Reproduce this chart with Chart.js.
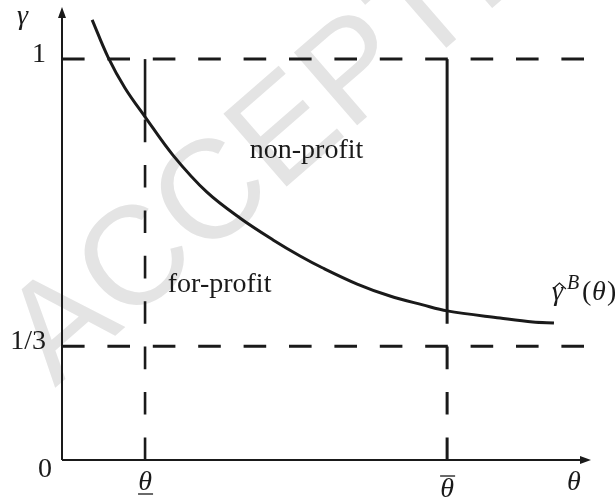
<!DOCTYPE html>
<html>
<head>
<meta charset="utf-8">
<script src="https://cdn.jsdelivr.net/npm/chart.js@4.4.1/dist/chart.umd.min.js"></script>
<style>
  html, body { margin: 0; padding: 0; background: #fff; }
  canvas { display: block; }
</style>
</head>
<body>
<canvas id="chart_regimes" width="615" height="499"></canvas>
<script>
// curve gamma-hat^B(theta)
const curve_x = [5.7, 8.7, 11.9, 15.7, 21.0, 27.4, 33.7, 39.9, 45.0, 49.3, 55.8, 62.0, 68.2, 72.8, 82.8, 89.0, 93.0];
const curve_y = [1.098, 1.005, 0.928, 0.856, 0.760, 0.668, 0.603, 0.549, 0.509, 0.479, 0.439, 0.409, 0.387, 0.372, 0.354, 0.344, 0.342];

// y ticks: 1/3 sits lower than its true value in the sketch
const y_ticks = [0, 0.284, 1];
const y_labels = ["0", "1/3", "1"];

// theta ticks (lower and upper threshold)
const theta_low = 15.7;
const theta_high = 72.8;
const x_ticks = [theta_low, theta_high];
const x_marks = ["under", "over"];

const dash_end = 98.7;

function curveAt(xv) {
	let i = curve_x.indexOf(xv);
	return curve_y[i];
}

const black = "#1a1a1a";
const dash = [22.6, 22.8];

function line(data, dashed, width) {
	return {
		data: data,
		borderColor: black,
		borderWidth: width || 3,
		borderDash: dashed ? dash : [],
		pointRadius: 0,
		tension: 0,
		fill: false,
	};
}

const sketch = {
	id: "sketch",
	beforeDatasetsDraw(chart) {
		// light watermark
		const ctx = chart.ctx;
		ctx.save();
		ctx.translate(55, 388);
		ctx.rotate(-41 * Math.PI / 180);
		ctx.fillStyle = "#e4e4e4";
		ctx.font = '140px "Liberation Sans"';
		ctx.textBaseline = "alphabetic";
		ctx.fillText("ACCEPTED MANUSCRIPT", 0, 0);
		ctx.restore();
	},
	afterDatasetsDraw(chart) {
		const ctx = chart.ctx;
		const sx = chart.scales.x, sy = chart.scales.y;
		const px = v => sx.getPixelForValue(v);
		const py = v => sy.getPixelForValue(v);
		const area = chart.chartArea;
		const ox = px(0), oy = py(0);

		ctx.save();
		ctx.strokeStyle = black;
		ctx.fillStyle = black;
		ctx.lineWidth = 2;

		// axes
		ctx.beginPath();
		ctx.moveTo(ox, oy);
		ctx.lineTo(ox, area.top + 10);
		ctx.moveTo(ox, oy);
		ctx.lineTo(area.right - 10, oy);
		ctx.stroke();

		// arrow heads
		ctx.beginPath();
		ctx.moveTo(ox, area.top);
		ctx.lineTo(ox - 4, area.top + 11);
		ctx.lineTo(ox + 4, area.top + 11);
		ctx.closePath();
		ctx.fill();
		ctx.beginPath();
		ctx.moveTo(area.right, oy);
		ctx.lineTo(area.right - 11, oy - 4);
		ctx.lineTo(area.right - 11, oy + 4);
		ctx.closePath();
		ctx.fill();

		// y tick labels
		ctx.font = '28px "Liberation Serif"';
		ctx.textAlign = "right";
		ctx.textBaseline = "alphabetic";
		y_ticks.forEach((v, i) => {
			if (v === 0) ctx.fillText(y_labels[i], ox - 10, oy + 17);
			else ctx.fillText(y_labels[i], ox - 16, py(v) + 3);
		});

		// x tick labels (theta with under / over bar)
		ctx.font = 'italic 28px "Liberation Serif"';
		ctx.textAlign = "center";
		ctx.lineWidth = 1.3;
		x_ticks.forEach((v, i) => {
			let cx = px(v);
			if (x_marks[i] == "under") {
				ctx.fillText("\u03B8", cx, oy + 30);
				ctx.beginPath();
				ctx.moveTo(cx - 7, oy + 34);
				ctx.lineTo(cx + 8, oy + 34);
				ctx.stroke();
			} else {
				ctx.fillText("\u03B8", cx, oy + 37);
				ctx.beginPath();
				ctx.moveTo(cx - 7, oy + 16);
				ctx.lineTo(cx + 8, oy + 16);
				ctx.stroke();
			}
		});

		// axis names
		ctx.textAlign = "left";
		ctx.fillText("\u03B3", 17, 24);
		ctx.fillText("\u03B8", 567, oy + 30);

		// region names
		ctx.font = '28px "Liberation Serif"';
		ctx.fillText("non-profit", px(35.5), py(0.753));
		ctx.fillText("for-profit", px(20.0), py(0.419));

		// curve name: gamma-hat^B(theta)
		let lx = px(curve_x[curve_x.length - 1]) - 2;
		let ly = py(0.399);
		ctx.font = 'italic 28px "Liberation Serif"';
		ctx.fillText("\u03B3", lx, ly);
		ctx.beginPath();
		ctx.moveTo(lx + 1, ly - 11);
		ctx.lineTo(lx + 7.5, ly - 17);
		ctx.lineTo(lx + 14, ly - 11);
		ctx.lineWidth = 1.2;
		ctx.stroke();
		ctx.font = 'italic 20px "Liberation Serif"';
		ctx.fillText("B", lx + 15, ly - 11);
		ctx.font = '28px "Liberation Serif"';
		ctx.fillText("(", lx + 30, ly);
		ctx.font = 'italic 28px "Liberation Serif"';
		ctx.fillText("\u03B8", lx + 40, ly);
		ctx.font = '28px "Liberation Serif"';
		ctx.fillText(")", lx + 55, ly);
		ctx.restore();
	},
};

const ctx = document.getElementById("chart_regimes").getContext("2d");

let chart_regimes = new Chart(ctx, {
	type: "line",
	data: {
		datasets: [
			// horizontal guides at gamma = 1 and gamma = 1/3
			line([{ x: 0, y: y_ticks[2] }, { x: dash_end, y: y_ticks[2] }], true),
			line([{ x: 0, y: y_ticks[1] }, { x: dash_end, y: y_ticks[1] }], true),
			// theta low: dashed up to the curve, solid above it
			line([{ x: theta_low, y: 0 }, { x: theta_low, y: curveAt(theta_low) }], true, 2.6),
			line([{ x: theta_low, y: curveAt(theta_low) }, { x: theta_low, y: 1 }], false, 2.6),
			// theta high
			line([{ x: theta_high, y: 0 }, { x: theta_high, y: curveAt(theta_high) }], true, 3),
			line([{ x: theta_high, y: curveAt(theta_high) }, { x: theta_high, y: 1 }], false, 3),
			// the curve
			{
				data: curve_x.map((v, i) => ({ x: v, y: curve_y[i] })),
				borderColor: black,
				borderWidth: 3,
				pointRadius: 0,
				tension: 0.35,
				fill: false,
			},
		],
	},
	options: {
		responsive: false,
		animation: false,
		devicePixelRatio: 1,
		layout: { padding: { left: 62, right: 24, top: 7, bottom: 39 } },
		plugins: { legend: { display: false }, tooltip: { enabled: false } },
		scales: {
			x: { type: "linear", min: 0, max: 100, display: false },
			y: { type: "linear", min: 0, max: 1.13, display: false },
		},
	},
	plugins: [sketch],
});
</script>
</body>
</html>
